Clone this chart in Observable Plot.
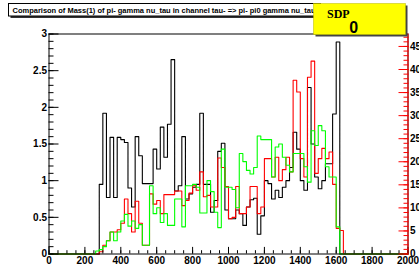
<!DOCTYPE html>
<html><head><meta charset="utf-8">
<script src="https://cdn.jsdelivr.net/npm/d3@7"></script>
<script src="https://cdn.jsdelivr.net/npm/@observablehq/plot@0.6"></script>
<style>
html,body{margin:0;padding:0;background:#fff;}
#chart{width:419px;height:272px;overflow:hidden;}
</style></head><body><div id="chart"></div>
<script>
// histogram bins: first bin low edge and width (MeV)
const binStart = 240, binWidth = 20;
// bins 240 ... 1660
const black = [0,0,0.95,1.92,0.77,1.59,0.77,1.59,1.56,1.52,0.90,0.64,1.60,1.34,0.96,0.96,0.96,1.43,1.16,1.73,1.32,1.77,2.65,0.86,0.93,1.60,0.75,0.82,0.91,0.95,1.92,0.95,0.95,0.57,0.73,1.40,1.51,0.60,0.48,0.48,0.60,0.55,0.39,0.64,0.74,0.76,0.27,0.52,1.00,0.96,0.75,0.87,0.77,0.91,1.00,1.18,1.66,1.43,1.00,0.87,2.27,1.50,1.05,0.89,1.00,1.23,1.23,1.91,2.89,0,0,0];
const red = [0,0,0.03,0.12,0.18,0.30,0.30,0.33,0.42,0.75,0.55,0.30,0.72,0.42,0.12,0.12,0.82,0.68,0.73,0.55,0.81,0.81,0.81,0.86,0.86,0.66,0.73,0.83,0.93,0.87,1.12,0.78,0.80,0.64,0.64,1.31,1.18,0.92,0.48,0.50,0.92,0.55,0.55,0.64,0.92,0.92,0.55,0.64,1.30,1.30,1.05,1.32,1.00,1.15,1.32,1.12,2.37,2.21,1.30,1.05,2.41,2.63,1.10,1.30,1.44,1.30,1.39,0.95,0.35,0.32,0,0];
const green = [0,0.04,0.06,0.10,0.18,0.30,0.18,0.30,0.45,0.54,0.38,0.45,0.35,0.40,0.12,0.12,0.93,0.55,0.63,0.43,0.55,0.39,0.39,0.75,0.75,0.37,0.93,0.93,0.95,0.91,0.56,0.56,1.00,0.85,0.57,0.36,1.43,0.91,0.91,0.88,0.63,1.37,1.26,1.14,1.09,1.18,1.61,1.56,1.56,1.56,1.05,1.46,1.50,1.32,1.21,1.12,1.37,1.37,1.37,1.19,0.98,1.68,1.48,1.75,1.68,1.19,1.05,1.05,0.37,0,0,0];

const xTicks = [0,200,400,600,800,1000,1200,1400,1600,1800,2000];
const yTicks = [0,0.5,1,1.5,2,2.5,3];
const rightTicks = [0,5,10,15,20,25,30,35,40,45];
const rightMax = 47.7;   // right (red) axis value at top of frame
const title = "Comparison of Mass(1) of pi- gamma nu_tau in channel tau- => pi- pi0 gamma nu_tau";
const statLabel = "SDP";
const statValue = "0";

const xMax = xTicks[xTicks.length - 1];
const yMax = yTicks[yTicks.length - 1];
const k = rightMax / yMax;

function steps(vals) {
  const pts = [{x: 0, y: 0}];
  vals.forEach((v, i) => pts.push({x: binStart + i * binWidth, y: v}));
  pts.push({x: binStart + vals.length * binWidth, y: 0});
  pts.push({x: xMax, y: 0});
  return pts;
}

const xMinor = d3.range(0, xMax + 1, 50);
const yMinor = d3.range(0, 31).map(i => i / 10);
const rMinor = d3.range(0, Math.floor(rightMax) + 1);

const plot = Plot.plot({
  width: 419, height: 272,
  marginLeft: 48.5, marginRight: 11.5, marginTop: 33.5, marginBottom: 18.5,
  x: {domain: [0, xMax], label: null},
  y: {domain: [0, yMax], label: null},
  style: {fontFamily: "'Liberation Sans', Arial, Helvetica, sans-serif", fontWeight: "bold", fontSize: "10px", background: "white", color: "black", overflow: "visible"},
  marks: [
    Plot.line(steps(black), {x: "x", y: "y", curve: "step-after", stroke: "#000", strokeWidth: 1.1}),
    Plot.line(steps(red), {x: "x", y: "y", curve: "step-after", stroke: "#ff0000", strokeWidth: 1.1}),
    Plot.line(steps(green), {x: "x", y: "y", curve: "step-after", stroke: "#00ff00", strokeWidth: 1.1}),
    Plot.frame({stroke: "#000"}),
    Plot.axisX({ticks: xMinor, tickSize: -3.3, tickFormat: () => "", label: null}),
    Plot.axisX({ticks: xTicks, tickSize: -6.6, tickPadding: 9.6, tickFormat: d => String(d), label: null}),
    Plot.axisY({ticks: yMinor, tickSize: -5, tickFormat: () => "", label: null}),
    Plot.axisY({ticks: yTicks, tickSize: -10, tickPadding: 12, tickFormat: d => String(d), label: null}),
    Plot.ruleX([xMax], {stroke: "#ff0000"}),
    Plot.axisY({ticks: rMinor.map(t => t / k), anchor: "right", tickSize: -5, stroke: "#ff0000", tickFormat: () => "", label: null}),
    Plot.axisY({ticks: rightTicks.map(t => t / k), anchor: "right", tickSize: -10, tickPadding: 12, stroke: "#ff0000", fill: "#000", tickFormat: d => String(Math.round(d * k)), label: null})
  ]
});

document.getElementById("chart").appendChild(plot);
const svg = d3.select(plot);

// title pave with shadow
const tg = svg.append("g").attr("text-anchor", "start");
tg.append("rect").attr("x", 10.5).attr("y", 5.5).attr("width", 312).attr("height", 12.5).attr("fill", "#333");
tg.append("rect").attr("x", 8.5).attr("y", 3.5).attr("width", 312).attr("height", 12.5).attr("fill", "#fff").attr("stroke", "#000").attr("stroke-width", 1);
tg.append("text").attr("x", 12.5).attr("y", 13.2).attr("text-anchor", "start").attr("textLength", 303).attr("lengthAdjust", "spacingAndGlyphs")
  .attr("font-family", "'Liberation Sans', Arial, sans-serif").attr("font-weight", "bold").attr("font-size", 7).attr("fill", "#000").text(title);

// stat pave
const sg = svg.append("g").attr("text-anchor", "start");
sg.append("rect").attr("x", 315.5).attr("y", 5.5).attr("width", 92).attr("height", 31).attr("fill", "#444");
sg.append("rect").attr("x", 313.5).attr("y", 3.5).attr("width", 92).attr("height", 31).attr("fill", "#ffff00").attr("stroke", "#b8b800").attr("stroke-width", 0.5);
sg.append("text").attr("x", 327).attr("y", 18.3).attr("text-anchor", "start").attr("font-family", "'Liberation Serif', 'Times New Roman', serif").attr("font-weight", "bold").attr("font-size", 12).attr("fill", "#000").text(statLabel);
sg.append("text").attr("x", 353.8).attr("y", 33.2).attr("text-anchor", "middle").attr("font-family", "'Liberation Sans', Arial, sans-serif").attr("font-weight", "bold").attr("font-size", 16).attr("fill", "#000").text(statValue);
</script></body></html>
